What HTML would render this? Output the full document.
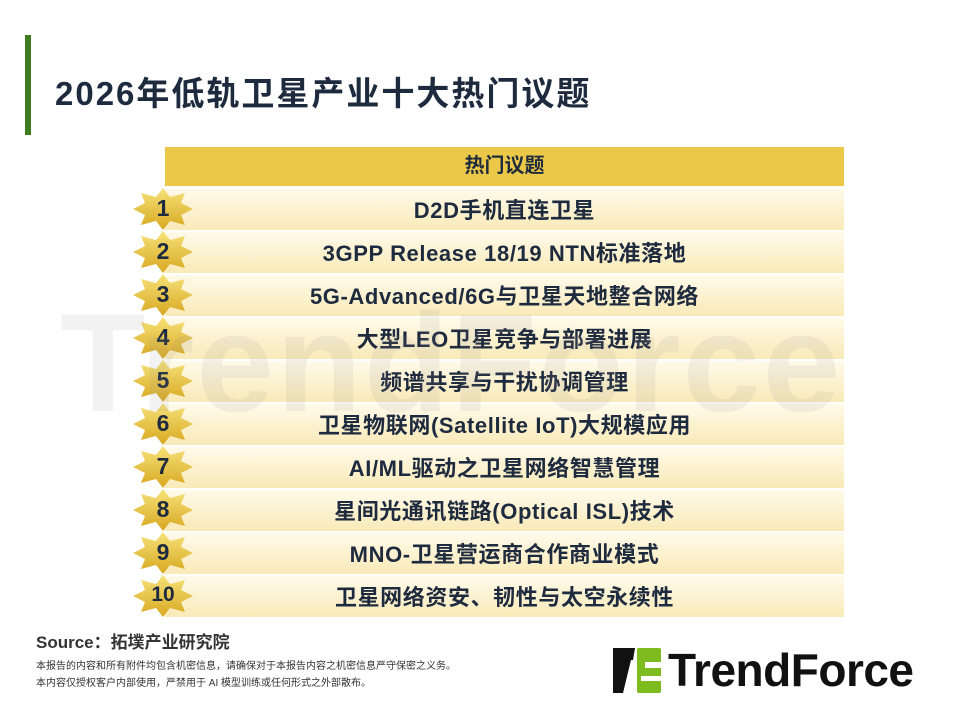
<!DOCTYPE html>
<html><head><meta charset="utf-8"><style>
body{margin:0;width:960px;height:720px;background:#fff;position:relative;overflow:hidden;font-family:"Liberation Sans","Noto Sans CJK SC",sans-serif;color:#1e2a3e}
.bar{position:absolute;left:25px;top:35px;width:6px;height:100px;background:#3f7d22}
.title{position:absolute;left:55px;top:67px;font-size:33px;font-weight:bold;color:#1e2a3e;letter-spacing:2px}
.wm{position:absolute;left:60px;top:282px;font-size:140px;font-weight:bold;color:rgba(150,150,150,0.12);letter-spacing:2px;white-space:nowrap;z-index:5}
.hdr{position:absolute;left:165px;top:147px;width:679px;height:39px;background:#ebc847;text-align:center;line-height:39px;font-size:20px;font-weight:bold}
.row{position:absolute;left:165px;width:679px;height:41px;background:linear-gradient(180deg,#fffaea,#f9eab8);text-align:center;line-height:43px;font-size:22px;font-weight:bold;letter-spacing:0.6px}
.star{position:absolute;left:133px;width:60px;height:42px}
.star svg{position:absolute;left:0;top:0}
.star span{position:absolute;left:0;width:60px;text-align:center;top:7px;font-size:23px;font-weight:bold;color:#1e2a3e}
.src{position:absolute;left:36px;top:628px;font-size:17px;font-weight:bold;color:#333}
.note{position:absolute;left:36px;font-size:10px;color:#333}
.logo{position:absolute;left:613px;top:648px}
.logotxt{position:absolute;left:668px;top:643px;font-size:46px;font-weight:bold;color:#111;letter-spacing:-0.5px}
</style></head><body>
<div class="bar"></div>
<div class="title">2026年低轨卫星产业十大热门议题</div>
<div class="wm">TrendForce</div>
<div class="hdr">热门议题</div>

<div class="row" style="top:189px">D2D手机直连卫星</div>
<div class="row" style="top:232px">3GPP Release 18/19 NTN标准落地</div>
<div class="row" style="top:275px">5G-Advanced/6G与卫星天地整合网络</div>
<div class="row" style="top:318px">大型LEO卫星竞争与部署进展</div>
<div class="row" style="top:361px">频谱共享与干扰协调管理</div>
<div class="row" style="top:404px">卫星物联网(Satellite IoT)大规模应用</div>
<div class="row" style="top:447px">AI/ML驱动之卫星网络智慧管理</div>
<div class="row" style="top:490px">星间光通讯链路(Optical ISL)技术</div>
<div class="row" style="top:533px">MNO-卫星营运商合作商业模式</div>
<div class="row" style="top:576px">卫星网络资安、韧性与太空永续性</div>

<svg width="0" height="0" style="position:absolute"><defs><linearGradient id="g" x1="0" y1="0" x2="0" y2="1"><stop offset="0" stop-color="#f6e27a"/><stop offset="1" stop-color="#d8a820"/></linearGradient></defs></svg>
<div class="star" style="top:188px"><svg width="60" height="42"><polygon points="30,0 37,9 52,5 48,15 60,21 48,27 52,37 37,33 30,42 23,33 8,37 12,27 0,21 12,15 8,5 23,9" fill="url(#g)"/></svg><span>1</span></div>
<div class="star" style="top:231px"><svg width="60" height="42"><polygon points="30,0 37,9 52,5 48,15 60,21 48,27 52,37 37,33 30,42 23,33 8,37 12,27 0,21 12,15 8,5 23,9" fill="url(#g)"/></svg><span>2</span></div>
<div class="star" style="top:274px"><svg width="60" height="42"><polygon points="30,0 37,9 52,5 48,15 60,21 48,27 52,37 37,33 30,42 23,33 8,37 12,27 0,21 12,15 8,5 23,9" fill="url(#g)"/></svg><span>3</span></div>
<div class="star" style="top:317px"><svg width="60" height="42"><polygon points="30,0 37,9 52,5 48,15 60,21 48,27 52,37 37,33 30,42 23,33 8,37 12,27 0,21 12,15 8,5 23,9" fill="url(#g)"/></svg><span>4</span></div>
<div class="star" style="top:360px"><svg width="60" height="42"><polygon points="30,0 37,9 52,5 48,15 60,21 48,27 52,37 37,33 30,42 23,33 8,37 12,27 0,21 12,15 8,5 23,9" fill="url(#g)"/></svg><span>5</span></div>
<div class="star" style="top:403px"><svg width="60" height="42"><polygon points="30,0 37,9 52,5 48,15 60,21 48,27 52,37 37,33 30,42 23,33 8,37 12,27 0,21 12,15 8,5 23,9" fill="url(#g)"/></svg><span>6</span></div>
<div class="star" style="top:446px"><svg width="60" height="42"><polygon points="30,0 37,9 52,5 48,15 60,21 48,27 52,37 37,33 30,42 23,33 8,37 12,27 0,21 12,15 8,5 23,9" fill="url(#g)"/></svg><span>7</span></div>
<div class="star" style="top:489px"><svg width="60" height="42"><polygon points="30,0 37,9 52,5 48,15 60,21 48,27 52,37 37,33 30,42 23,33 8,37 12,27 0,21 12,15 8,5 23,9" fill="url(#g)"/></svg><span>8</span></div>
<div class="star" style="top:532px"><svg width="60" height="42"><polygon points="30,0 37,9 52,5 48,15 60,21 48,27 52,37 37,33 30,42 23,33 8,37 12,27 0,21 12,15 8,5 23,9" fill="url(#g)"/></svg><span>9</span></div>
<div class="star" style="top:575px"><svg width="60" height="42"><polygon points="30,0 37,9 52,5 48,15 60,21 48,27 52,37 37,33 30,42 23,33 8,37 12,27 0,21 12,15 8,5 23,9" fill="url(#g)"/></svg><span style="font-size:21px;top:8px">10</span></div>

<div class="src">Source：拓墣产业研究院</div>
<div class="note" style="top:657px">本报告的内容和所有附件均包含机密信息，请确保对于本报告内容之机密信息严守保密之义务。</div>
<div class="note" style="top:674px">本内容仅授权客户内部使用，严禁用于 AI 模型训练或任何形式之外部散布。</div>

<svg class="logo" width="50" height="46" viewBox="0 0 50 46">
<polygon points="0,0 22,0 20,12 4,12 4,45 0,45" fill="#111"/>
<polygon points="4,12 18,12 10,45 4,45" fill="#111"/>
<rect x="24" y="0" width="24" height="45" rx="2" fill="#7dbb1e"/>
<rect x="32" y="14" width="16" height="6" fill="#fff"/>
<rect x="28" y="28" width="20" height="5" fill="#fff"/>
</svg>
<div class="logotxt">TrendForce</div>
</body></html>
